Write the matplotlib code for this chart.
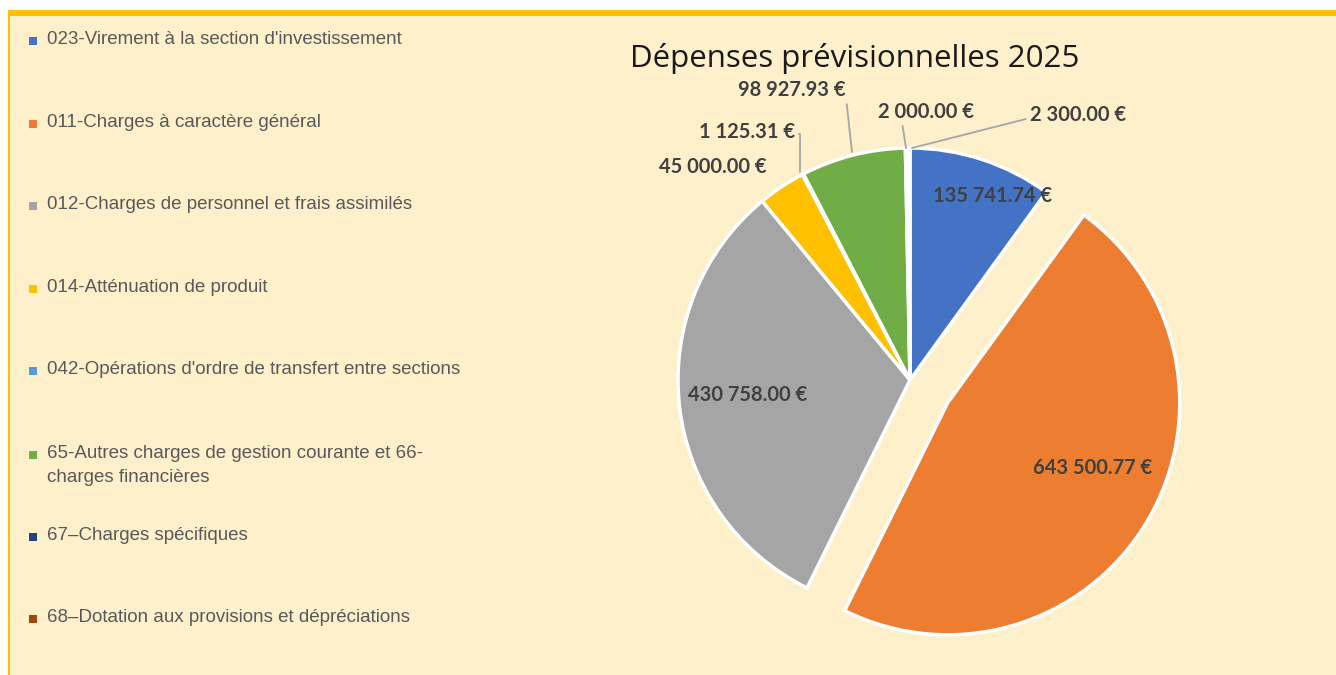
import matplotlib
matplotlib.use("Agg")
import matplotlib.pyplot as plt
from matplotlib import font_manager
from matplotlib.patches import Rectangle
import numpy as np

# ---- data ----
categories = [
    "023-Virement à la section d'investissement",
    "011-Charges à caractère général",
    "012-Charges de personnel et frais assimilés",
    "014-Atténuation de produit",
    "042-Opérations d'ordre de transfert entre sections",
    "65-Autres charges de gestion courante et 66-\ncharges financières",
    "67–Charges spécifiques",
    "68–Dotation aux provisions et dépréciations",
]
values = [135741.74, 643500.77, 430758.00, 45000.00, 1125.31, 98927.93, 2000.00, 2300.00]
colors = ["#4472C4", "#ED7D31", "#A5A5A5", "#FFC000", "#5B9BD5", "#70AD47", "#264478", "#9E480E"]
title = "Dépenses prévisionnelles 2025"


def fmt(v):
    s = f"{v:,.2f}".replace(",", " ")
    return s + " €"


avail = {f.name for f in font_manager.fontManager.ttflist}
narrow = "Liberation Sans Narrow" if "Liberation Sans Narrow" in avail else "Liberation Sans"
bold_font = "Lato" if "Lato" in avail else "DejaVu Sans"
title_font = "Open Sans" if "Open Sans" in avail else "DejaVu Sans"

W, H = 1336, 675
fig = plt.figure(figsize=(W / 100, H / 100), dpi=100)
fig.patch.set_facecolor("white")

# background panel
fig.patches.append(Rectangle((10 / W, 0), 1 - 10 / W, (H - 16) / H, transform=fig.transFigure,
                             facecolor="#FFF0CC", edgecolor="none", zorder=-2))
# gold top band and left line
fig.patches.append(Rectangle((8 / W, (H - 16) / H), 1 - 8 / W, 6 / H, transform=fig.transFigure,
                             facecolor="#FFC000", edgecolor="none", zorder=-1))
fig.patches.append(Rectangle((8 / W, 0), 2 / W, (H - 10) / H, transform=fig.transFigure,
                             facecolor="#FFC000", edgecolor="none", zorder=-1))

# ---- pie ----
cx, cy, R = 910, 380, 232
lim = 1.4
size = 2 * lim * R
ax = fig.add_axes([(cx - size / 2) / W, (H - cy - size / 2) / H, size / W, size / H])
ax.set_zorder(2)
ax.patch.set_visible(False)

explode = [0, 0.19, 0, 0, 0, 0, 0, 0]
wedges, _ = ax.pie(values, colors=colors, startangle=90, counterclock=False,
                   explode=explode, radius=1, center=(0, 0),
                   wedgeprops=dict(edgecolor="white", linewidth=2.5))
for w in wedges:
    w.set_clip_on(False)
ax.set_xlim(-lim, lim)
ax.set_ylim(-lim, lim)
ax.set_aspect("equal")
ax.axis("off")

def px2d(px, py):
    return ((px - cx) / R, (cy - py) / R)

lab_kw = dict(fontsize=14.5, fontweight="bold", color="#404040", family=bold_font)

# inside labels
inside = {0: (993, 196), 1: (1093, 468), 2: (748, 395)}
for i, (px, py) in inside.items():
    x, y = px2d(px, py)
    ax.text(x, y, fmt(values[i]), ha="center", va="center", **lab_kw)

# outside labels with leader lines: (text pos, target px, relpos, connectionstyle)
outside = {
    3: ((713, 167), None, None, None),
    4: ((747, 132), (800, 172), (1.0, 0.4), "angle,angleA=0,angleB=90,rad=0"),
    5: ((792, 90), (852, 152), (1.0, 0.2), "arc3"),
    6: ((926, 112), (906, 148), (0.25, 0.0), "arc3"),
    7: ((1078, 115), (912, 148), (0.0, 0.35), "arc3"),
}
for i, ((px, py), tgt, rp, cs) in outside.items():
    x, y = px2d(px, py)
    if tgt is None:
        ax.text(x, y, fmt(values[i]), ha="center", va="center", **lab_kw)
    else:
        ax.annotate(fmt(values[i]), xy=px2d(*tgt), xytext=(x, y), ha="center", va="center",
                    arrowprops=dict(arrowstyle="-", color="#A6A6A6", lw=1.3,
                                    shrinkA=1, shrinkB=0, relpos=rp,
                                    connectionstyle=cs),
                    annotation_clip=False, **lab_kw)

fig.text(855 / W, 1 - 58 / H, title, ha="center", va="center", fontsize=22.5,
         family=title_font, color="#1A1A1A")

# ---- legend ----
ys = [41, 124, 206, 289, 371, 455, 537, 619]
for lab, col, yy in zip(categories, colors, ys):
    fig.patches.append(Rectangle((29 / W, 1 - (yy + 4) / H), 8 / W, 8 / H,
                                 transform=fig.transFigure, facecolor=col,
                                 edgecolor="none", zorder=3))
    fig.text(47 / W, 1 - (yy - 10) / H, lab, ha="left", va="top", fontsize=13.5,
             family=narrow, color="#595959", linespacing=1.5)

fig.savefig("out.png", dpi=100, facecolor=fig.get_facecolor())
